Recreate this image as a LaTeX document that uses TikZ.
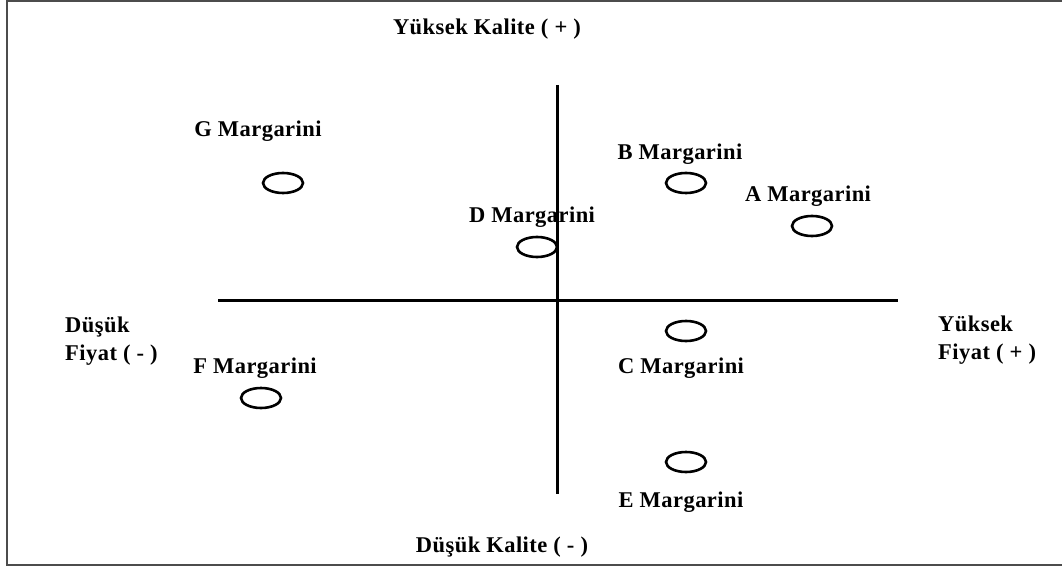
\documentclass[tikz,border=0pt]{standalone}
\usepackage{fontspec}
\setmainfont{Liberation Serif}[LetterSpace=2]
\usetikzlibrary{shapes.geometric}
\tikzset{
  oval/.style={draw,ellipse,line width=2.6pt,minimum width=40pt,minimum height=20pt,inner sep=0pt},
  lbl/.style={font=\fontsize{22.5}{28}\selectfont\bfseries,inner sep=0pt,anchor=base},
  side/.style={font=\fontsize{22.5}{28}\selectfont\bfseries,inner sep=0pt,anchor=north west,align=left}
}
\begin{document}
\begin{tikzpicture}[x=1pt,y=-1pt]
\useasboundingbox (0,0) rectangle (1062,569);
\draw[line width=2pt,gray!60!black] (1062,1) -- (7,1) -- (7,565) -- (1062,565);
\coordinate (ytop) at (557,85);
\coordinate (ybot) at (557,494);
\coordinate (xl) at (218,300);
\coordinate (xr) at (898,300);
\draw[line width=3pt] (ytop) -- (ybot);
\draw[line width=3pt] (xl) -- (xr);
\node[lbl] (hq) at (487,35) {Yüksek Kalite ( + )};
\node[lbl] (lq) at (502,552) {Düşük Kalite ( - )};
\node[side] (lp) at (65,317) {Düşük\\Fiyat ( - )};
\node[side] (hp) at (938,316) {Yüksek\\Fiyat ( + )};
\node[oval] (g) at (283,183) {};
\node[oval] (b) at (686,183) {};
\node[oval] (a) at (812,226) {};
\node[oval] (d) at (537,247) {};
\node[oval] (c) at (686,331) {};
\node[oval] (f) at (261,398) {};
\node[oval] (e) at (686,462) {};
\node[lbl] (gl) at (258,137) {G Margarini};
\node[lbl] (bl) at (680,160) {B Margarini};
\node[lbl] (al) at (808,202) {A Margarini};
\node[lbl] (dl) at (532,223) {D Margarini};
\node[lbl] (cl) at (681,373) {C Margarini};
\node[lbl] (fl) at (255,373) {F Margarini};
\node[lbl] (el) at (681,507) {E Margarini};
\end{tikzpicture}
\end{document}
